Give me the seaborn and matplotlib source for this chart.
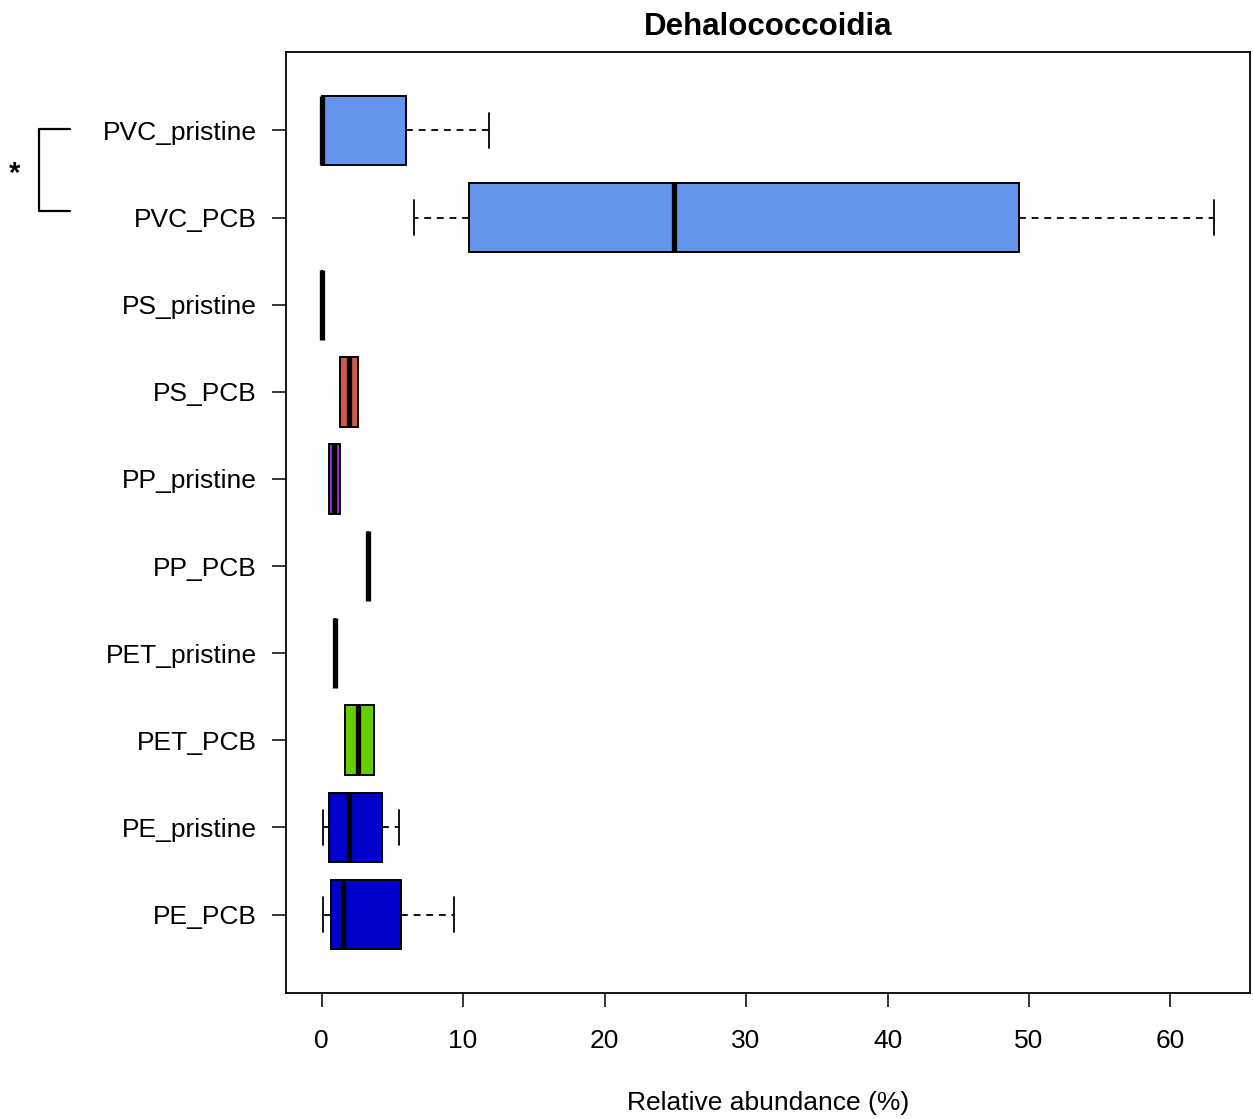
import numpy as np
import pandas as pd
import matplotlib
matplotlib.use("Agg")
import matplotlib.pyplot as plt
from matplotlib.lines import Line2D
import matplotlib.transforms as mtransforms
import seaborn as sns

# ---- data ----
categories = ["PVC_pristine", "PVC_PCB", "PS_pristine", "PS_PCB", "PP_pristine",
              "PP_PCB", "PET_pristine", "PET_PCB", "PE_pristine", "PE_PCB"]
whisker_low = [0.0, 6.5, 0.05, 1.27, 0.50, 3.25, 0.92, 1.63, 0.07, 0.07]
q1          = [0.0, 10.4, 0.05, 1.27, 0.50, 3.25, 0.92, 1.63, 0.50, 0.64]
median      = [0.05, 24.9, 0.05, 1.90, 0.85, 3.25, 0.92, 2.60, 1.90, 1.50]
q3          = [5.94, 49.3, 0.05, 2.54, 1.27, 3.25, 0.92, 3.67, 4.24, 5.58]
whisker_high = [11.8, 63.1, 0.05, 2.54, 1.27, 3.25, 0.92, 3.67, 5.50, 9.33]
colors = ["#6495ED", "#6495ED", "#CD5B45", "#CD5B45", "#9A32CD",
          "#9A32CD", "#66CD00", "#66CD00", "#0000CD", "#0000CD"]
x_ticks = [0, 10, 20, 30, 40, 50, 60]
title = "Dehalococcoidia"
x_label = "Relative abundance (%)"

# five-number samples per group -> quartiles reproduce the summary
rows = []
for i, c in enumerate(categories):
    for v in (whisker_low[i], q1[i], median[i], q3[i], whisker_high[i]):
        rows.append({"group": c, "value": v})
df = pd.DataFrame(rows)

sns.set_theme(style="ticks")
plt.rcParams["font.family"] = ["Liberation Sans", "DejaVu Sans"]
plt.rcParams["text.color"] = "black"
plt.rcParams["axes.labelcolor"] = "black"

fig = plt.figure(figsize=(12.53, 11.19), dpi=100)
ax = fig.add_axes([286 / 1253, 1 - 993 / 1119, (1250 - 286) / 1253, (993 - 52) / 1119])

sns.boxplot(data=df, x="value", y="group", hue="group", order=categories,
            hue_order=categories, palette=colors, legend=False, orient="h",
            width=0.8, whis=1.5, linecolor="black", linewidth=1.4,
            saturation=1, ax=ax,
            medianprops={"linewidth": 3.8, "color": "black", "solid_capstyle": "butt"},
            whiskerprops={"linestyle": (0, (3.8, 3.2)), "linewidth": 1.3, "color": "black"},
            capprops={"linewidth": 1.3, "color": "black"})

ax.set_xlim(-2.52, 65.62)
ax.set_ylim(9.9, -0.9)
ax.set_xticks(x_ticks)
ax.set_xticklabels([str(t) for t in x_ticks])
ax.tick_params(axis="both", direction="out", length=10, width=1.1, colors="black",
               labelsize=19)
ax.tick_params(axis="x", pad=16)
ax.tick_params(axis="y", pad=11)
for s in ax.spines.values():
    s.set_visible(True)
    s.set_color("black")
    s.set_linewidth(1.3)
ax.set_ylabel("")
ax.set_xlabel(x_label, fontsize=19, labelpad=27, color="black")
ax.set_title(title, fontsize=22.5, fontweight="bold", pad=12, color="black")

# significance bracket outside the axes
tr = mtransforms.blended_transform_factory(fig.transFigure, ax.transData)
bx0, bx1 = 39 / 1253, 70 / 1253
fig.add_artist(Line2D([bx1, bx0, bx0, bx1], [-0.02, -0.02, 0.93, 0.93],
                      transform=tr, color="black", linewidth=1.6))
fig.text(15 / 1253, 0.5, "*", transform=tr, fontsize=21, fontweight="bold",
         ha="center", va="center")

fig.savefig("out.png", dpi=100)
